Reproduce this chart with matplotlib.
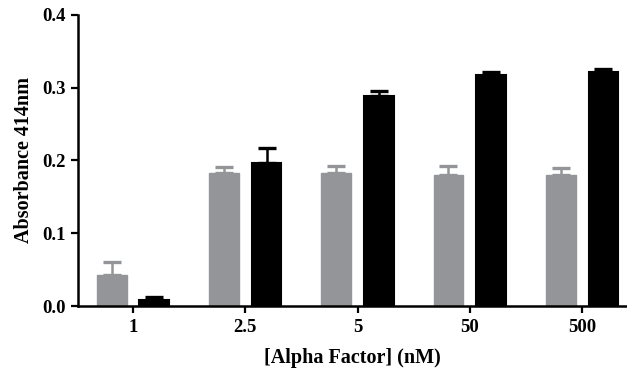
import matplotlib
matplotlib.use("Agg")
import matplotlib.pyplot as plt
import numpy as np

categories = ["1", "2.5", "5", "50", "500"]
gray_vals = [0.043, 0.183, 0.183, 0.180, 0.180]
gray_err = [0.017, 0.008, 0.010, 0.013, 0.010]
black_vals = [0.008, 0.197, 0.289, 0.317, 0.322]
black_err = [0.005, 0.020, 0.006, 0.004, 0.004]

plt.rcParams['font.family'] = ['Liberation Serif', 'DejaVu Serif']
plt.rcParams['font.weight'] = 'bold'

fig = plt.figure(figsize=(6.27, 3.72), dpi=100)
ax = fig.add_axes([0.1244, 0.1774, 0.8756, 0.7823])

x = np.arange(len(categories))
w = 0.265
off = 0.19
gray = '#939598'
ax.bar(x - off, gray_vals, w, color=gray, edgecolor=gray, linewidth=1, zorder=2)
ax.bar(x + off, black_vals, w, color='black', edgecolor='black', linewidth=1.5, zorder=2)
ax.errorbar(x - off, gray_vals, yerr=[np.zeros(len(x)), gray_err], fmt='none',
            ecolor=gray, elinewidth=1.8, capsize=6.5, capthick=2.4, zorder=1)
ax.errorbar(x + off, black_vals, yerr=[np.zeros(len(x)), black_err], fmt='none',
            ecolor='black', elinewidth=1.8, capsize=6.5, capthick=2.4, zorder=1)

ax.set_xlim(-0.49, 4.40)
ax.set_ylim(0, 0.4)
ax.set_yticks([0.0, 0.1, 0.2, 0.3, 0.4])
ax.set_yticklabels(["0.0", "0.1", "0.2", "0.3", "0.4"])
ax.set_xticks(x)
ax.set_xticklabels(categories)
for s in ['top', 'right']:
    ax.spines[s].set_visible(False)
for s in ['left', 'bottom']:
    ax.spines[s].set_linewidth(1.8)
ax.tick_params(axis='both', direction='out', length=5, width=1.6, labelsize=13.5, pad=4)
for lab in ax.get_xticklabels() + ax.get_yticklabels():
    lab.set_fontweight('bold')
ax.set_ylabel("Absorbance 414nm", fontsize=14.5, fontweight='bold', labelpad=6)
ax.set_xlabel("[Alpha Factor] (nM)", fontsize=14.5, fontweight='bold', labelpad=9)

fig.savefig("out.png", dpi=100)
